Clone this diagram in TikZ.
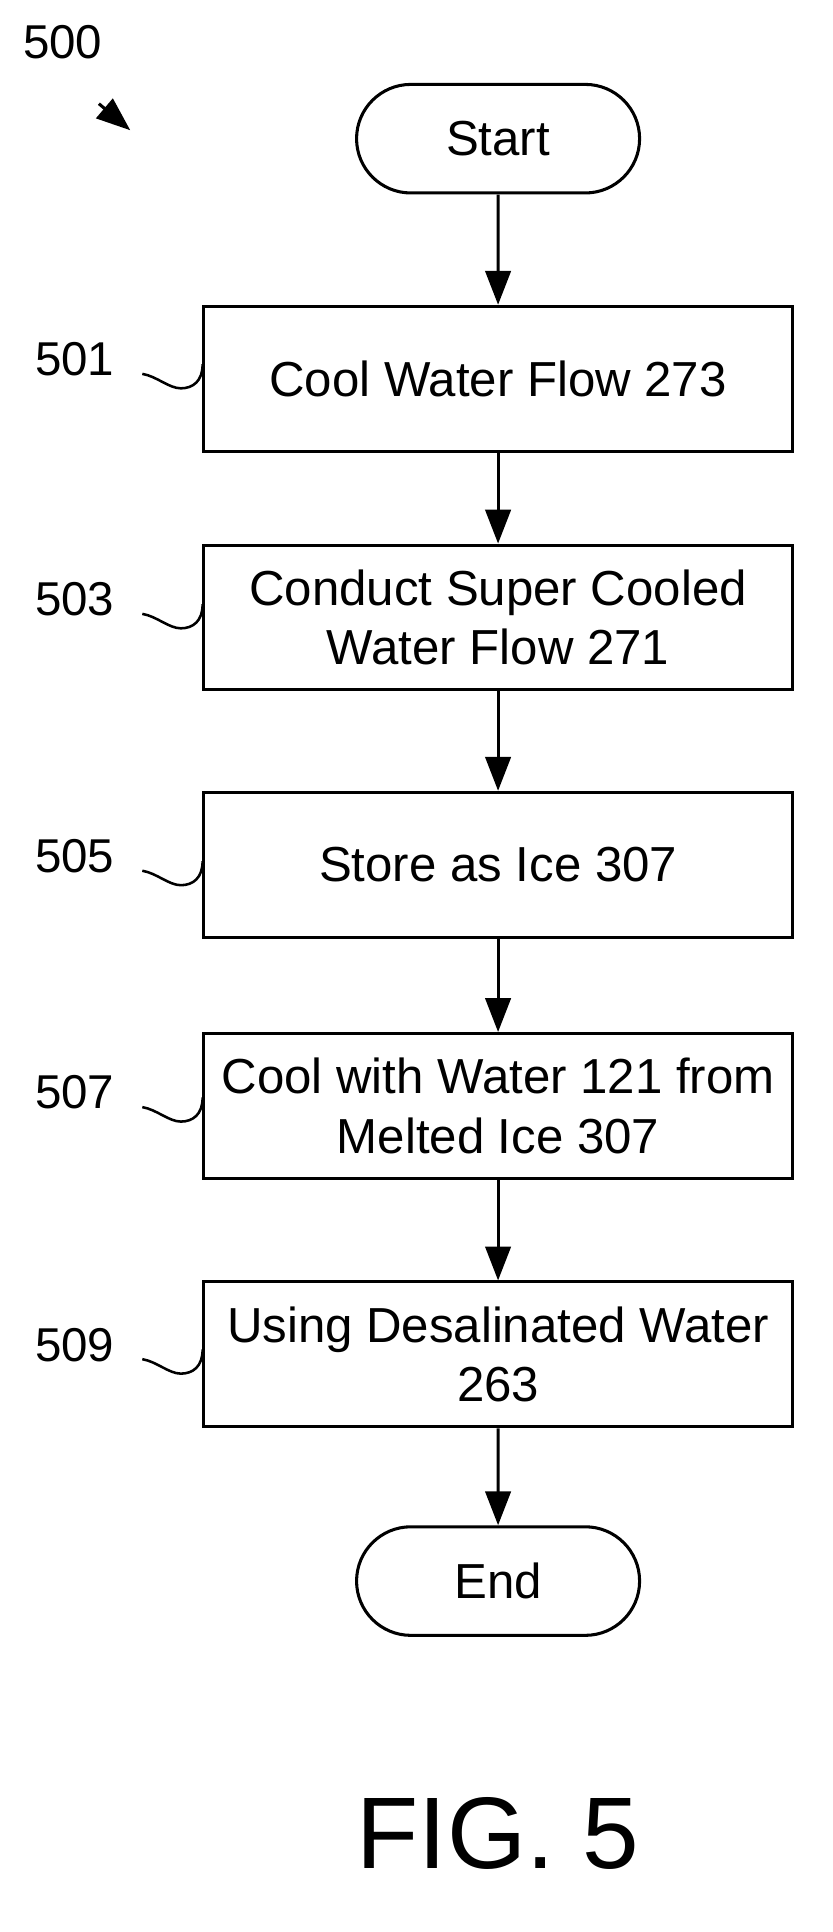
\documentclass[tikz,border=0pt]{standalone}
\usepackage{fontspec}
\setmainfont{Liberation Sans}
\usetikzlibrary{positioning,arrows.meta,shapes.misc}
\tikzset{
    procbox/.style={draw, line width=1.8pt, minimum width=12.2cm, minimum height=3cm, align=center, font=\fontsize{29}{35}\selectfont},
    term/.style={draw, line width=1.8pt, rounded rectangle, minimum width=6.1cm, minimum height=2.25cm, font=\fontsize{29}{35}\selectfont},
    flow/.style={-{Triangle[length=20pt,width=15pt]}, line width=1.8pt},
    tag/.style={font=\fontsize{28}{34}\selectfont}
}
\begin{document}
\begin{tikzpicture}[x=0.025cm,y=-0.025cm]
    \useasboundingbox (0,0) rectangle (690,1602);
    % Figure reference
    \node [tag] (lfig) at (52,35) {500};
    \coordinate (fa) at (82,86);
    \coordinate (fb) at (108,108);
    \draw [flow] (fa) -- (fb);

    % Steps
    \node [term] (start) at (413,115) {Start};
    \node [procbox] (s501) at (413,314) {Cool Water Flow 273};
    \node [procbox] (s503) at (413,512) {Conduct Super Cooled\\Water Flow 271};
    \node [procbox] (s505) at (413,717) {Store as Ice 307};
    \node [procbox] (s507) at (413,917) {Cool with Water 121 from\\Melted Ice 307};
    \node [procbox] (s509) at (413,1123) {Using Desalinated Water\\263};
    \node [term] (stop) at (413,1311) {End};

    \draw [flow] (start) -- (s501);
    \draw [flow] (s501) -- (s503);
    \draw [flow] (s503) -- (s505);
    \draw [flow] (s505) -- (s507);
    \draw [flow] (s507) -- (s509);
    \draw [flow] (s509) -- (stop);

    % Reference labels
    \foreach \n/\y in {501/298, 503/497, 505/710, 507/906, 509/1115} {
        \node [tag] (l\n) at (62,\y) {\n};
        \coordinate (w\n) at (118,\y+12);
        \coordinate (m\n) at (150,\y+24);
        \draw [line width=1.5pt] (w\n) .. controls (130,\y+14) and (140,\y+24) .. (m\n)
            .. controls (160,\y+24) and (168,\y+18) .. (168,\y+4);
    }

    \node [font=\fontsize{60}{70}\selectfont] (caption) at (413,1520) {FIG. 5};
\end{tikzpicture}
\end{document}
